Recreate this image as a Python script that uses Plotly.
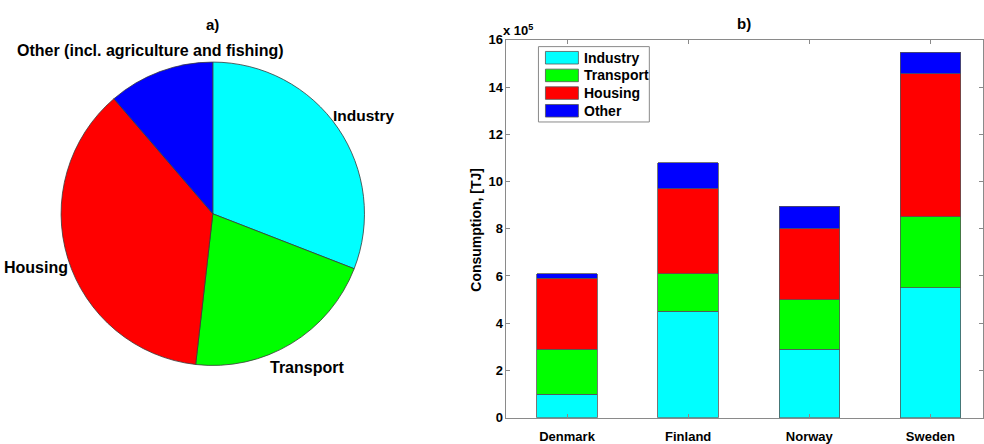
import plotly.graph_objects as go

# Pie: share of total final energy consumption by sector (%)
sectors = ["Industry", "Transport", "Housing", "Other (incl. agriculture and fishing)"]
sector_share = [30.9, 20.9, 36.9, 11.3]

# Bars: consumption per country and sector, in units of 10^5 TJ
countries = ["Denmark", "Finland", "Norway", "Sweden"]
industry = [1.0, 4.5, 2.9, 5.5]
transport = [1.9, 1.6, 2.1, 3.0]
housing = [3.0, 3.6, 3.0, 6.07]
other = [0.2, 1.1, 0.96, 0.91]
legend_names = ["Industry", "Transport", "Housing", "Other"]

y_ticks = [0, 2, 4, 6, 8, 10, 12, 14, 16]

colors = ["#00FFFF", "#00FF00", "#FF0000", "#0000FF"]
FONT = "Liberation Sans, Arial, sans-serif"
AXIS_GRAY = "#8a8a8a"

W, H = 984, 444


def px_x(x):
    return x / W


def px_y(y):
    return 1 - y / H


fig = go.Figure()

fig.add_trace(go.Pie(
    labels=sectors,
    values=sector_share,
    sort=False,
    direction="clockwise",
    rotation=0,
    marker=dict(colors=colors, line=dict(color="#3a3a3a", width=0.8)),
    textinfo="none",
    hoverinfo="label+percent",
    showlegend=False,
    domain=dict(x=[px_x(56), px_x(370)], y=[px_y(371), px_y(57)]),
))

for name, vals, col in zip(legend_names, [industry, transport, housing, other], colors):
    fig.add_trace(go.Bar(
        x=countries, y=vals, name=name, width=0.5,
        marker=dict(color=col, line=dict(color="#555555", width=0.8)),
        showlegend=False,
        xaxis="x", yaxis="y",
    ))

bold = dict(family=FONT, size=16, color="black")

annotations = [
    dict(text="<b>a)</b>", x=px_x(213), y=px_y(18), font=dict(family=FONT, size=15, color="black")),
    dict(text="<b>b)</b>", x=px_x(745), y=px_y(17), font=dict(family=FONT, size=15, color="black")),
    dict(text="<b>Other (incl. agriculture and fishing)</b>", x=px_x(151), y=px_y(45)),
    dict(text="<b>Industry</b>", x=px_x(364), y=px_y(112), font=dict(family=FONT, size=15.5, color="black")),
    dict(text="<b>Housing</b>", x=px_x(36), y=px_y(270)),
    dict(text="<b>Transport</b>", x=px_x(307), y=px_y(373)),
    dict(text="<b>x 10<sup>5</sup></b>", x=px_x(519), y=px_y(24), font=dict(family=FONT, size=13, color="black")),
    dict(text="<b>Consumption, [TJ]</b>", x=px_x(477), y=px_y(231), textangle=-90,
         font=dict(family=FONT, size=14, color="black")),
]

# Boxed legend with wide colour patches
shapes = [dict(type="rect", xref="paper", yref="paper",
               x0=px_x(539), x1=px_x(650), y0=px_y(119), y1=px_y(41),
               line=dict(color=AXIS_GRAY, width=1), fillcolor="white", layer="above")]
row_pitch = 18.3
for i, (name, col) in enumerate(zip(legend_names, colors)):
    top = 46 + i * row_pitch
    shapes.append(dict(type="rect", xref="paper", yref="paper",
                       x0=px_x(546), x1=px_x(579), y0=px_y(top + 13), y1=px_y(top),
                       line=dict(color="#555555", width=0.8), fillcolor=col, layer="above"))
    annotations.append(dict(text=f"<b>{name}</b>", x=px_x(583), y=px_y(top + 6.5),
                            xanchor="left", font=dict(family=FONT, size=14, color="black")))

for a in annotations:
    a.setdefault("font", bold)
    a.setdefault("xanchor", "center")
    a.update(xref="paper", yref="paper", showarrow=False, yanchor="middle")

fig.update_layout(
    width=W, height=H,
    margin=dict(l=0, r=0, t=0, b=0),
    paper_bgcolor="white", plot_bgcolor="white",
    barmode="stack",
    font=dict(family=FONT, size=13, color="black"),
    annotations=annotations,
    shapes=shapes,
    showlegend=False,
    xaxis=dict(
        domain=[px_x(507), 1.0],
        type="category",
        range=[-0.5, 3.434],
        showline=True, linecolor=AXIS_GRAY, linewidth=1, mirror="ticks",
        ticks="inside", ticklen=4, tickcolor=AXIS_GRAY,
        tickfont=dict(family=FONT, size=13, color="black", weight="bold"),
        ticklabelstandoff=7,
        showgrid=False, zeroline=False,
    ),
    yaxis=dict(
        domain=[px_y(425), px_y(34)],
        range=[0, 16],
        tickvals=y_ticks,
        ticktext=[str(v) for v in y_ticks],
        showline=True, linecolor=AXIS_GRAY, linewidth=1, mirror="ticks",
        ticks="inside", ticklen=4, tickcolor=AXIS_GRAY,
        tickfont=dict(family=FONT, size=13, color="black", weight="bold"),
        showgrid=False, zeroline=False,
    ),
)

fig.write_html("out.html")
